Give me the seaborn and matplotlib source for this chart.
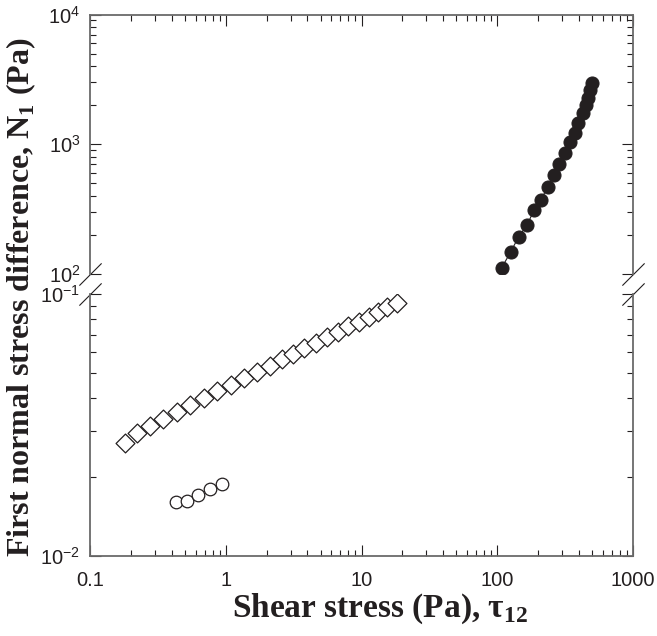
import numpy as np
import pandas as pd
import matplotlib
matplotlib.use("Agg")
import matplotlib.pyplot as plt
import matplotlib.ticker as mticker
import seaborn as sns

# ---------------- data ----------------
filled_x = [108, 126, 144, 166, 187, 209, 235, 261, 287, 317, 343, 372,
            396, 426, 448, 469, 479, 496]
filled_y = [112, 149, 194, 240, 311, 372, 466, 579, 704, 861, 1046, 1227,
            1458, 1731, 2007, 2261, 2618, 2952]

diamond_x = [0.181, 0.223, 0.277, 0.347, 0.435, 0.548, 0.695, 0.867, 1.088,
             1.370, 1.700, 2.118, 2.583, 3.145, 3.790, 4.598, 5.54, 6.68,
             8.00, 9.58, 11.36, 13.30, 15.49, 18.17]
diamond_y = [0.02706, 0.02939, 0.03134, 0.03333, 0.03545, 0.03770, 0.0401,
             0.04264, 0.04507, 0.04779, 0.05051, 0.05311, 0.05633, 0.05902,
             0.06204, 0.06518, 0.06871, 0.07180, 0.07549, 0.07840, 0.08192,
             0.08560, 0.08897, 0.09215]

open_x = [0.428, 0.521, 0.628, 0.766, 0.934]
open_y = [0.01603, 0.01622, 0.01709, 0.01802, 0.01878]

x_ticks = [0.1, 1, 10, 100, 1000]
x_tick_labels = ["0.1", "1", "10", "100", "1000"]
upper_ylim = (1e2, 1e4)
lower_ylim = (1e-2, 1e-1)

# ---------------- style ----------------
sns.set_style("ticks")
plt.rcParams["font.family"] = ["Liberation Sans", "DejaVu Sans"]
plt.rcParams["axes.unicode_minus"] = False
plt.rcParams["mathtext.fontset"] = "custom"
plt.rcParams["mathtext.rm"] = "Liberation Sans"
plt.rcParams["mathtext.bf"] = "Liberation Serif:bold"

ink = "#231f20"
spine_col = "#6a6a6a"

W, H = 657, 636
fig = plt.figure(figsize=(W / 100, H / 100), dpi=100)
left, right = 90 / W, 633 / W
ax_top = fig.add_axes([left, 1 - 274 / H, right - left, (274 - 14.5) / H])
ax_bot = fig.add_axes([left, 1 - 556 / H, right - left, (556 - 294) / H])

df_f = pd.DataFrame({"x": filled_x, "y": filled_y})
df_d = pd.DataFrame({"x": diamond_x, "y": diamond_y})
df_o = pd.DataFrame({"x": open_x, "y": open_y})

sns.lineplot(data=df_f, x="x", y="y", ax=ax_top, estimator=None, sort=False,
             color=ink, linewidth=0.8, marker="o", markersize=9.4,
             markeredgecolor=ink, markerfacecolor=ink, zorder=3)
sns.scatterplot(data=df_d, x="x", y="y", ax=ax_bot, marker="D", s=92,
                facecolor="white", edgecolor=ink, linewidth=0.9, zorder=3)
sns.scatterplot(data=df_o, x="x", y="y", ax=ax_bot, marker="o", s=82,
                facecolor="white", edgecolor=ink, linewidth=0.9, zorder=3)

for ax, ylim in ((ax_top, upper_ylim), (ax_bot, lower_ylim)):
    ax.set_xscale("log")
    ax.set_yscale("log")
    ax.set_xlim(0.1, 1000)
    ax.set_ylim(*ylim)
    ax.set_xlabel("")
    ax.set_ylabel("")
    ax.xaxis.set_major_locator(mticker.FixedLocator(x_ticks))
    ax.xaxis.set_major_formatter(mticker.FixedFormatter(x_tick_labels))
    ax.xaxis.set_minor_locator(mticker.LogLocator(base=10, subs=np.arange(2, 10)))
    ax.xaxis.set_minor_formatter(mticker.NullFormatter())
    ax.yaxis.set_major_locator(mticker.LogLocator(base=10))
    ax.yaxis.set_minor_locator(mticker.LogLocator(base=10, subs=np.arange(2, 10)))
    ax.yaxis.set_minor_formatter(mticker.NullFormatter())
    for sp in ax.spines.values():
        sp.set_color(spine_col)
        sp.set_linewidth(1.3)
    ax.tick_params(which="both", direction="in", colors=ink, labelsize=14.5,
                   labelcolor=ink, width=0.8, right=True)
    ax.tick_params(which="major", length=8)
    ax.tick_params(which="minor", length=4.5)
    ax.tick_params(axis="y", which="both", pad=7)
    ax.tick_params(axis="x", which="both", pad=11)
    ax.set_facecolor("white")

ax_top.spines["bottom"].set_visible(False)
ax_bot.spines["top"].set_visible(False)
ax_top.tick_params(axis="x", which="both", bottom=False, labelbottom=False, top=True)
ax_bot.tick_params(axis="x", which="both", top=False, bottom=True)

# broken-axis marks
kw = dict(marker=[(-1, -1), (1, 1)], markersize=16, linestyle="none",
          color=ink, mec=ink, mew=0.8, clip_on=False)
ax_top.plot([0, 1], [0, 0], transform=ax_top.transAxes, **kw)
ax_bot.plot([0, 1], [1, 1], transform=ax_bot.transAxes, **kw)

# axis titles
serif = ["Liberation Serif", "DejaVu Serif"]
fig.text(380 / W, 1 - 609 / H, r"Shear stress (Pa), τ$_{\mathbf{12}}$",
         ha="center", va="center", fontsize=24, fontweight="bold",
         family=serif, color=ink)
fig.text(21 / W, 1 - 297 / H, r"First normal stress difference, N$_{\mathbf{1}}$ (Pa)",
         ha="center", va="center", rotation=90, fontsize=23, fontweight="bold",
         family=serif, color=ink)

fig.savefig("out.png", dpi=100, facecolor="white")
